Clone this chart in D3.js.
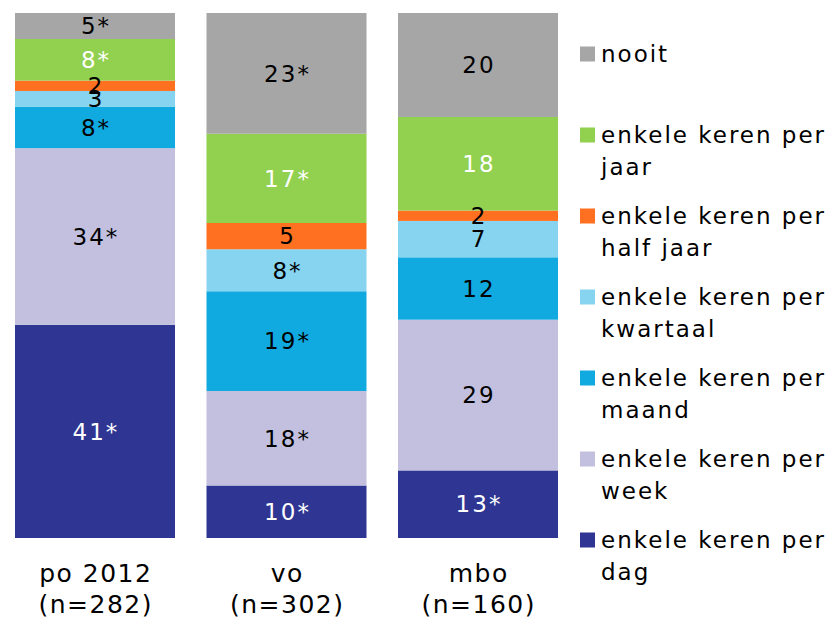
<!DOCTYPE html>
<html><head><meta charset="utf-8">
<script src="https://cdn.jsdelivr.net/npm/d3@7"></script>
<style>body{margin:0;background:#fff}svg{display:block}text{font-family:"DejaVu Sans",Verdana,sans-serif}</style>
</head><body><svg id="c" width="831" height="618"></svg>
<script>
const categories = ["po 2012", "vo", "mbo"];
const categoryN = ["(n=282)", "(n=302)", "(n=160)"];
const seriesNames = ["enkele keren per dag", "enkele keren per week", "enkele keren per maand", "enkele keren per kwartaal", "enkele keren per half jaar", "enkele keren per jaar", "nooit"];
const legendLines = [["enkele keren per", "dag"], ["enkele keren per", "week"], ["enkele keren per", "maand"], ["enkele keren per", "kwartaal"], ["enkele keren per", "half jaar"], ["enkele keren per", "jaar"], ["nooit"]];
const colors = ["#2E3592", "#C2C0DE", "#10A9E0", "#87D4F0", "#FF7020", "#92D050", "#A6A6A6"];
const labelColors = ["#fff", "#000", "#000", "#000", "#000", "#fff", "#000"];
const dag = [41, 10, 13];
const week = [34, 18, 29];
const maand = [8, 19, 12];
const kwartaal = [3, 8, 7];
const halfjaar = [2, 5, 2];
const jaar = [8, 17, 18];
const nooit = [5, 23, 20];
const significant = [
  [true, true, true],
  [true, true, false],
  [true, true, false],
  [false, true, false],
  [false, false, false],
  [true, true, false],
  [true, true, false]
];
const seriesValues = [dag, week, maand, kwartaal, halfjaar, jaar, nooit];

const rows = categories.map((c, i) => {
  const r = {cat: c};
  seriesNames.forEach((s, k) => r[s] = seriesValues[k][i]);
  return r;
});
const stack = d3.stack().keys(seriesNames).offset(d3.stackOffsetExpand);
const layers = stack(rows);

const svg = d3.select("#c");
const x = d3.scaleBand().domain(categories).range([15, 558]).paddingInner(0.1645).paddingOuter(0);
const y = d3.scaleLinear().domain([0, 1]).range([538, 13]);
const FS = 23, LS = 2;      // legend + bar labels
const FB = 25, LB = 1.5;    // category labels

layers.forEach((layer, k) => {
  svg.append("g").selectAll("rect").data(layer).join("rect")
    .attr("x", d => x(d.data.cat))
    .attr("width", x.bandwidth())
    .attr("y", d => y(d[1]))
    .attr("height", d => y(d[0]) - y(d[1]))
    .attr("fill", colors[k]);
});
layers.forEach((layer, k) => {
  svg.append("g").selectAll("text").data(layer).join("text")
    .attr("x", d => x(d.data.cat) + x.bandwidth() / 2 + LS / 2)
    .attr("y", d => (y(d[0]) + y(d[1])) / 2)
    .attr("dy", "0.36em")
    .attr("text-anchor", "middle")
    .attr("font-size", FS)
    .attr("letter-spacing", LS)
    .attr("fill", labelColors[k])
    .text((d, i) => seriesValues[k][i] + (significant[k][i] ? "*" : ""));
});

// category labels
const xa = svg.append("g");
categories.forEach((c, i) => {
  const cx = x(c) + x.bandwidth() / 2 + LB / 2;
  xa.append("text").attr("x", cx).attr("y", 582).attr("text-anchor", "middle").attr("font-size", FB).attr("letter-spacing", LB).text(c);
  xa.append("text").attr("x", cx).attr("y", 613).attr("text-anchor", "middle").attr("font-size", FB).attr("letter-spacing", LB).text(categoryN[i]);
});

// legend (top to bottom: nooit first)
const legY = d3.scaleLinear().domain([6, 0]).range([54, 540]);
for (let k = seriesNames.length - 1; k >= 0; k--) {
  const yy = legY(k);
  svg.append("rect").attr("x", 580).attr("y", yy - 7.5).attr("width", 15).attr("height", 15).attr("fill", colors[k]);
  legendLines[k].forEach((t, j) => {
    svg.append("text").attr("x", 601).attr("y", yy + j * 32).attr("dy", "0.36em").attr("font-size", FS).attr("letter-spacing", LS).text(t);
  });
}
</script></body></html>
